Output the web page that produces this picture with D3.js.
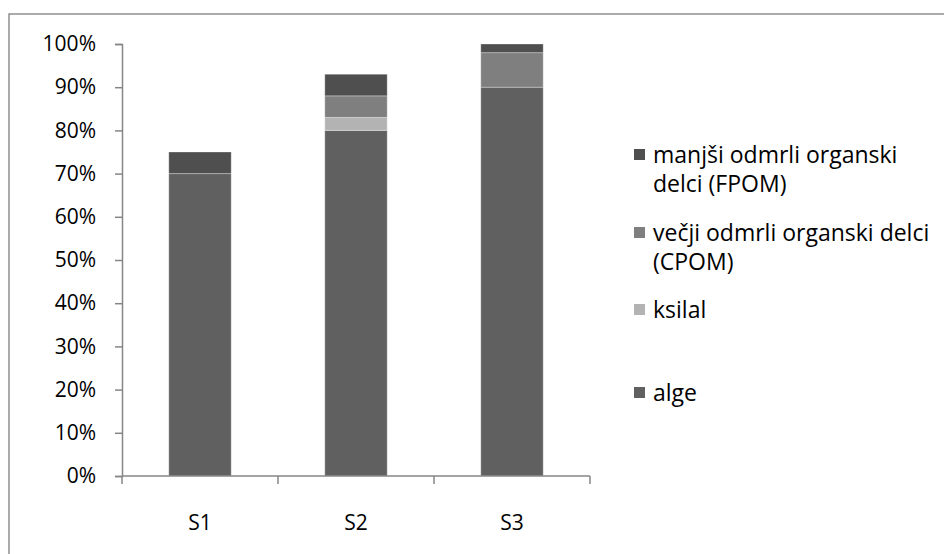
<!DOCTYPE html>
<html>
<head>
<meta charset="utf-8">
<script src="https://cdn.jsdelivr.net/npm/d3@7"></script>
<style>
  html, body { margin: 0; padding: 0; background: #fff; }
  svg { display: block; }
  text { font-family: "Open Sans", Lato, sans-serif; fill: #000; }
</style>
</head>
<body>
<svg id="chart" width="944" height="554"></svg>
<script>
// Sampling sites
const categories = ["S1", "S2", "S3"];

// Share of each food source per site (fractions of 1), stacked bottom to top
const alge   = [0.70, 0.80, 0.90];
const ksilal = [0.00, 0.03, 0.00];
const cpom   = [0.00, 0.05, 0.08];
const fpom   = [0.05, 0.05, 0.02];

const seriesNames  = ["alge", "ksilal", "večji odmrli organski delci (CPOM)", "manjši odmrli organski delci (FPOM)"];
const seriesColors = ["#606060", "#b3b3b3", "#7f7f7f", "#4f4f4f"];

const yTicks = [0, 0.1, 0.2, 0.3, 0.4, 0.5, 0.6, 0.7, 0.8, 0.9, 1.0];

const svg = d3.select("#chart");
const W = 944, H = 554;

// Chart frame
svg.append("rect")
  .attr("x", 9).attr("y", 14)
  .attr("width", W + 20).attr("height", H + 20)
  .attr("fill", "none").attr("stroke", "#8f8f8f").attr("stroke-width", 1.5);

const plot = { left: 122, right: 590, top: 44, bottom: 476 };

const x = d3.scaleBand().domain(categories).range([plot.left, plot.right]).paddingInner(0.6).paddingOuter(0.3);
const xOuter = d3.scaleBand().domain(categories).range([plot.left, plot.right]);
const y = d3.scaleLinear().domain([0, 1]).range([plot.bottom, plot.top]);

// Stack the series
const rows = categories.map((c, i) => ({
  cat: c, alge: alge[i], ksilal: ksilal[i],
  [seriesNames[2]]: cpom[i], [seriesNames[3]]: fpom[i]
}));
const stack = d3.stack().keys(seriesNames)(rows);

const gBars = svg.append("g");
stack.forEach((layer, li) => {
  gBars.selectAll(null).data(layer.filter(d => d[1] - d[0] > 0)).enter().append("rect")
    .attr("x", d => x(d.data.cat))
    .attr("width", x.bandwidth())
    .attr("y", d => y(d[1]))
    .attr("height", d => y(d[0]) - y(d[1]))
    .attr("fill", seriesColors[li])
    .attr("stroke", "rgba(255,255,255,0.3)")
    .attr("stroke-width", 1);
});

// Y axis
const yAxis = d3.axisLeft(y).tickValues(yTicks).tickFormat(d3.format(".0%")).tickSize(7).tickPadding(19);
const gy = svg.append("g").attr("transform", `translate(${plot.left},0)`).call(yAxis);
gy.select(".domain").attr("stroke", "#868686").attr("stroke-width", 1.5);
gy.selectAll(".tick line").attr("stroke", "#868686").attr("stroke-width", 1.5);
gy.selectAll(".tick text").style("font-size", "21px").attr("fill", "#000");

// X axis with category boundary ticks
const gx = svg.append("g").attr("transform", `translate(0,${plot.bottom})`);
gx.append("line")
  .attr("x1", plot.left).attr("x2", plot.right)
  .attr("stroke", "#868686").attr("stroke-width", 1.5);
const bounds = [plot.left].concat(categories.map(c => xOuter(c) + xOuter.bandwidth()));
gx.selectAll(".bt").data(bounds).enter().append("line")
  .attr("x1", d => d).attr("x2", d => d).attr("y1", 0).attr("y2", 8)
  .attr("stroke", "#868686").attr("stroke-width", 1.5);
gx.selectAll(".cl").data(categories).enter().append("text")
  .attr("x", d => xOuter(d) + xOuter.bandwidth() / 2)
  .attr("y", 54)
  .attr("text-anchor", "middle")
  .style("font-size", "21px")
  .text(d => d);

// Legend (top entry is the top of the stack)
const legendOrder = [3, 2, 1, 0];
const legendY = [155, 233, 310, 393];
const maxLegendWidth = 288;
const lineH = 29;
const gl = svg.append("g");
legendOrder.forEach((si, k) => {
  const cy = legendY[k];
  gl.append("rect")
    .attr("x", 634).attr("y", cy - 6)
    .attr("width", 11).attr("height", 11)
    .attr("fill", seriesColors[si]);
  const t = gl.append("text").attr("x", 653).attr("y", cy + 8).style("font-size", "23px");
  // word wrap
  const words = seriesNames[si].split(" ");
  let line = [];
  let ts = t.append("tspan").attr("x", 653).attr("dy", 0);
  words.forEach(w => {
    line.push(w);
    ts.text(line.join(" "));
    if (ts.node().getComputedTextLength() > maxLegendWidth && line.length > 1) {
      line.pop();
      ts.text(line.join(" "));
      line = [w];
      ts = t.append("tspan").attr("x", 653).attr("dy", lineH).text(w);
    }
  });
});
</script>
</body>
</html>
